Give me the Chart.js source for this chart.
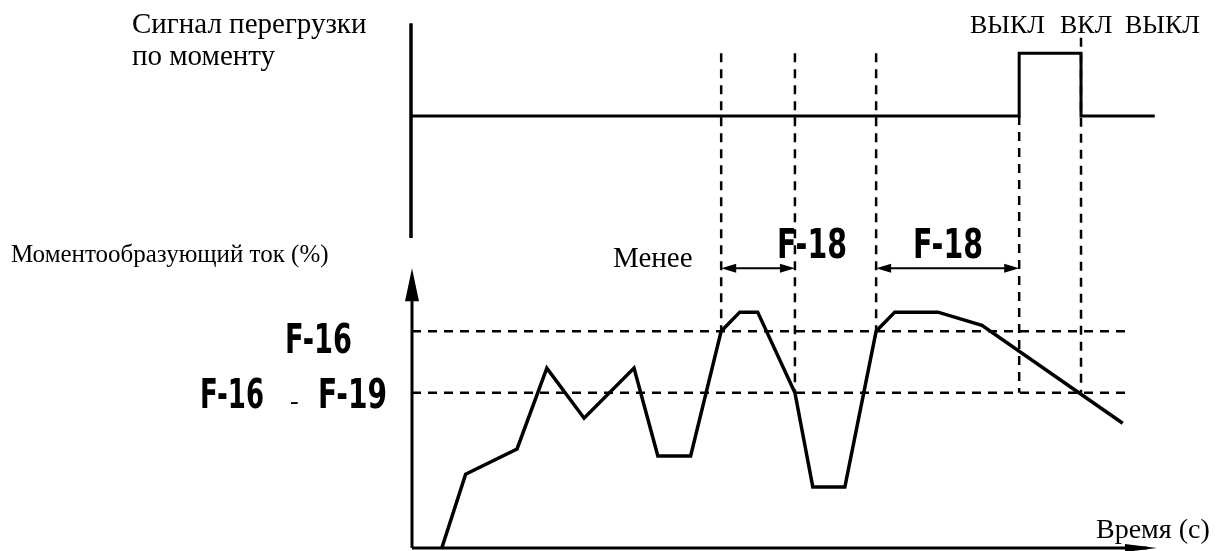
<!DOCTYPE html>
<html>
<head>
<meta charset="utf-8">
<script src="https://cdn.jsdelivr.net/npm/chart.js@4"></script>
<style>
  html, body { margin: 0; padding: 0; background: #fff; }
  #wrap { position: relative; width: 1216px; height: 551px; }
</style>
</head>
<body>
<div id="wrap"><canvas id="torque" width="1216" height="551"></canvas></div>
<script>
// time axis runs 0..100 (arbitrary units)
const timeRange = [0, 100];

// torque-producing current, %
const currentTime  = [4.0, 7.2, 14.1, 18.1, 23.1, 29.8, 33.0, 37.4, 41.5, 44.0, 46.4, 51.4, 53.8, 58.1, 62.3, 64.8, 70.6, 76.5, 95.4];
const currentValue = [0, 26.4, 35.4, 64.3, 46.4, 64.3, 32.9, 32.9, 77.5, 84.3, 84.3, 55.5, 21.8, 21.8, 77.5, 84.3, 84.3, 79.6, 44.6];

// overload signal, 0 = off, 1 = on
const signalTime  = [0, 81.5, 81.5, 89.8, 89.8, 99.7];
const signalState = [0, 0, 1, 1, 0, 0];

// threshold levels
const levelNames  = ['F-16', 'F-16 - F-19'];
const levelValues = [77.5, 55.5];
const levelEnd = 95.7;

// dashed time markers
const markerTime   = [41.5, 51.4, 62.3, 81.5, 89.8];
const markerTop    = [1, 1, 1, 0, 1.25];   // on signal scale
const markerBottom = [77.5, 55.5, 77.5, 55.5, 55.5]; // on current scale

// F-18 timer spans
const spanStart = [41.5, 62.3];
const spanEnd   = [51.4, 81.5];
const spanLabel = ['F-18', 'F-18'];
const spanLevel = 100;

const serif = '"Liberation Serif", "Times New Roman", serif';

function arrowHead(ctx, x, y, dx, dy, len, half) {
    // tip at (x, y), pointing along (dx, dy)
    ctx.beginPath();
    ctx.moveTo(x, y);
    ctx.lineTo(x - dx * len - dy * half, y - dy * len + dx * half);
    ctx.lineTo(x - dx * len + dy * half, y - dy * len - dx * half);
    ctx.closePath();
    ctx.fill();
}

// bold, narrow "segment display" style parameter names
function segLabel(ctx, text, x, top, w, h) {
    ctx.save();
    ctx.font = 'bold ' + Math.round(h / 0.73) + 'px "DejaVu Sans"';
    const m = ctx.measureText(text).width;
    ctx.translate(x, top + h);
    ctx.scale(w / m, 1);
    ctx.textAlign = 'left';
    ctx.textBaseline = 'alphabetic';
    ctx.fillText(text, 0, 0);
    ctx.restore();
}

function serifText(ctx, text, size, x, y) {
    ctx.font = size + 'px ' + serif;
    ctx.fillText(text, x, y);
}

const diagramPlugin = {
    id: 'diagram',
    beforeDatasetsDraw(chart) {
        const { ctx, scales: { x, y, ySig } } = chart;
        ctx.save();
        ctx.strokeStyle = '#000';
        ctx.fillStyle = '#000';

        // dashed guide lines
        ctx.lineWidth = 2.5;
        ctx.setLineDash([9, 7]);
        levelValues.forEach(v => {
            ctx.beginPath();
            ctx.moveTo(x.getPixelForValue(timeRange[0]), y.getPixelForValue(v));
            ctx.lineTo(x.getPixelForValue(levelEnd), y.getPixelForValue(v));
            ctx.stroke();
        });
        markerTime.forEach((t, i) => {
            const px = x.getPixelForValue(t);
            ctx.beginPath();
            ctx.moveTo(px, ySig.getPixelForValue(markerTop[i]));
            ctx.lineTo(px, y.getPixelForValue(markerBottom[i]));
            ctx.stroke();
        });
        ctx.setLineDash([]);

        // axes
        const x0 = x.getPixelForValue(timeRange[0]);
        const x1 = x.getPixelForValue(timeRange[1]);
        const y0 = y.getPixelForValue(0);
        const yTop = y.getPixelForValue(100);
        ctx.lineWidth = 3;
        ctx.beginPath();
        ctx.moveTo(x0, y0);
        ctx.lineTo(x1 - 10, y0);
        ctx.moveTo(x0, y0);
        ctx.lineTo(x0, yTop + 20);
        ctx.stroke();
        arrowHead(ctx, x1, y0, 1, 0, 32, 4);
        arrowHead(ctx, x0, yTop, 0, -1, 33, 7);

        // signal axis
        ctx.lineWidth = 3.5;
        ctx.beginPath();
        ctx.moveTo(x0 - 1, ySig.getPixelForValue(1.48));
        ctx.lineTo(x0 - 1, ySig.getPixelForValue(-1.95));
        ctx.stroke();

        // F-18 dimension arrows
        ctx.lineWidth = 2;
        spanStart.forEach((s, i) => {
            const a = x.getPixelForValue(s);
            const b = x.getPixelForValue(spanEnd[i]);
            const py = y.getPixelForValue(spanLevel);
            ctx.beginPath();
            ctx.moveTo(a + 8, py);
            ctx.lineTo(b - 8, py);
            ctx.stroke();
            arrowHead(ctx, a, py, -1, 0, 15, 4.5);
            arrowHead(ctx, b, py, 1, 0, 15, 4.5);
        });
        ctx.restore();
    },
    afterDraw(chart) {
        const { ctx } = chart;
        ctx.save();
        ctx.fillStyle = '#000';
        ctx.textAlign = 'left';
        ctx.textBaseline = 'alphabetic';
        serifText(ctx, 'Сигнал перегрузки', 29, 132, 33);
        serifText(ctx, 'по моменту', 29, 132, 65);
        serifText(ctx, 'ВЫКЛ', 26, 970, 33);
        serifText(ctx, 'ВКЛ', 26, 1060, 33);
        serifText(ctx, 'ВЫКЛ', 26, 1125, 33);
        serifText(ctx, 'Моментообразующий ток (%)', 25, 11, 262);
        serifText(ctx, 'Менее', 29, 613, 267);
        serifText(ctx, 'Время (с)', 28, 1096, 538);
        serifText(ctx, '-', 26, 290, 409);

        segLabel(ctx, spanLabel[0], 777, 228, 70, 30);
        segLabel(ctx, spanLabel[1], 913, 228, 70, 30);
        segLabel(ctx, levelNames[0], 285, 323, 67, 30);
        const parts = levelNames[1].split(' - ');
        segLabel(ctx, parts[0], 200, 378, 64, 30);
        segLabel(ctx, parts[1], 318, 378, 69, 30);
        ctx.restore();
    }
};

new Chart(document.getElementById('torque'), {
    type: 'line',
    data: {
        datasets: [{
            label: 'Моментообразующий ток (%)',
            data: currentTime.map((t, i) => ({ x: t, y: currentValue[i] })),
            yAxisID: 'y',
            borderColor: '#000',
            borderWidth: 3.5,
            borderJoinStyle: 'miter',
            pointRadius: 0,
            tension: 0,
            fill: false,
            clip: false
        }, {
            label: 'Сигнал перегрузки по моменту',
            data: signalTime.map((t, i) => ({ x: t, y: signalState[i] })),
            yAxisID: 'ySig',
            borderColor: '#000',
            borderWidth: 3,
            borderJoinStyle: 'miter',
            pointRadius: 0,
            tension: 0,
            fill: false,
            clip: false
        }]
    },
    options: {
        responsive: false,
        animation: false,
        devicePixelRatio: 1,
        events: [],
        layout: { padding: { left: 412, right: 59, top: 22, bottom: 3 } },
        plugins: {
            legend: { display: false },
            tooltip: { enabled: false }
        },
        scales: {
            x: { type: 'linear', min: timeRange[0], max: timeRange[1], display: false },
            y: { min: 0, max: 188, display: false },
            ySig: { min: -6.9, max: 1.5, display: false }
        }
    },
    plugins: [diagramPlugin]
});
</script>
</body>
</html>
